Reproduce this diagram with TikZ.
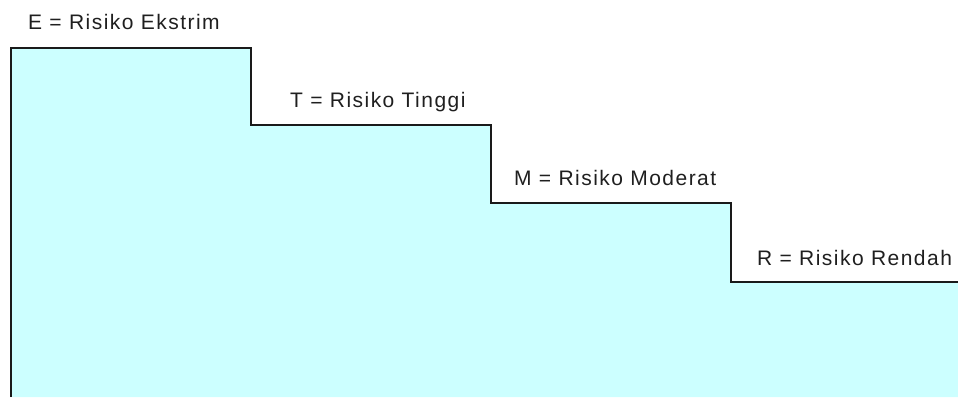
\documentclass[tikz,border=0pt]{standalone}
\usepackage{fontspec}
\setmainfont{Liberation Sans}[LetterSpace=7]
\definecolor{stepfill}{HTML}{CCFFFF}
\definecolor{stepline}{HTML}{1A1A1A}
\begin{document}
\begin{tikzpicture}[x=1pt,y=-1pt,
  risklabel/.style={anchor=base west, inner sep=0pt, text=black!88,
    font=\fontsize{21}{24}\selectfont},
  stairline/.style={draw=stepline, line width=2pt, line join=miter}]
\useasboundingbox (0,0) rectangle (958,397);
% staircase corners
\coordinate (s0) at (11,397);
\coordinate (s1) at (251,48);
\coordinate (s2) at (491,124.5);
\coordinate (s3) at (731,203);
\coordinate (s4) at (958,281.7);
% filled area below the steps
\fill[stepfill] (11,397) -- (11,48) -- (251,48) -- (251,124.5) -- (491,124.5)
  -- (491,203) -- (731,203) -- (731,281.7) -- (958,281.7) -- (958,397) -- cycle;
% outline of the steps
\draw[stairline] (s0) |- (s1) |- (s2) |- (s3) |- (s4);
% risk level labels
\node[risklabel] (e) at (28,29.3) {E = Risiko Ekstrim};
\node[risklabel] (t) at (290,107) {T = Risiko Tinggi};
\node[risklabel] (m) at (514,185) {M = Risiko Moderat};
\node[risklabel] (r) at (757,265) {R = Risiko Rendah};
\end{tikzpicture}
\end{document}
